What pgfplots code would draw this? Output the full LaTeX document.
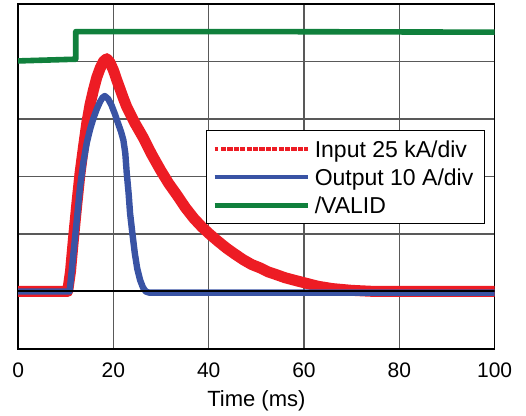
\documentclass[border=0pt]{standalone}
\usepackage{pgfplots}
\pgfplotsset{compat=1.18}
\usepackage{fontspec}
\setmainfont{Liberation Sans}
\definecolor{myred}{RGB}{237,28,36}
\definecolor{myblue}{RGB}{57,83,164}
\definecolor{mygreen}{RGB}{16,128,60}
\begin{document}
\begin{tikzpicture}
\useasboundingbox (0,0) rectangle (263pt,208pt);
\begin{axis}[
 at={(9.05pt,33.5pt)}, anchor=south west,
 scale only axis, width=238.25pt, height=172.5pt,
 xmin=0, xmax=100, ymin=-1, ymax=5,
 xtick={0,20,40,60,80,100}, ytick={-1,0,1,2,3,4,5}, yticklabels={},
 minor tick num=0,
 grid=major, major grid style={black!65, line width=0.6pt},
 axis line style={line width=0.7pt},
 major tick length=0pt,
 /pgf/number format/assume math mode=true,
 xticklabel style={font=\fontsize{10.5}{12}\selectfont, anchor=base, yshift=-14.5pt},
 xlabel={Time (ms)},
 xlabel style={font=\fontsize{11}{13}\selectfont, at={(axis description cs:0.5,0)}, anchor=base, yshift=-28.65pt},
 legend style={at={(axis cs:39.43,2.809)}, anchor=north west, draw=black, line width=0.6pt, fill=white,
   font=\fontsize{11.5}{13}\selectfont, inner xsep=3pt, inner ysep=2pt, row sep=0pt,
   nodes={inner xsep=2.5pt, inner ysep=0.5pt, text height=10.8pt, text depth=2.4pt}},
 legend cell align=left,
 legend image code/.code={\path (0pt,0pt) -- (46.5pt,0pt); \draw[#1] (4pt,0pt) -- (45pt,0pt);},
]
% Input (red)
\addplot[myred, line width=5.5pt, line join=round, forget plot] coordinates {
(0,0) (10.4,0) (11.0,0.35) (11.6,0.9) (12.3,1.5) (13.0,2.06) (13.7,2.5) (14.4,2.92) (15.1,3.25) (15.8,3.5) (16.5,3.72) (17.2,3.88) (17.9,4.0) (18.6,4.05) (19.3,3.98) (20.0,3.85) (20.7,3.68) (21.4,3.52) (22.1,3.36) (22.8,3.21) (24.5,2.93) (26.3,2.67) (28,2.39) (29.9,2.11) (31.6,1.88) (33.4,1.67) (35.1,1.46) (36.9,1.27) (38.6,1.12) (40.3,0.99) (42,0.87) (43.8,0.75) (45.5,0.65) (47.3,0.55) (49,0.47) (50.8,0.41) (52.5,0.34) (54.3,0.29) (56,0.24) (57.8,0.2) (60.6,0.14) (63,0.09) (66,0.05) (70,0.02) (75,0) (100,0)
};
% Output (blue)
\addplot[myblue, line width=3.2pt, line join=round, forget plot] coordinates {
(0,0) (10.8,0) (11.3,0.4) (11.9,0.9) (12.5,1.4) (13.0,1.82) (13.7,2.25) (14.4,2.58) (15.1,2.82) (15.8,3.01) (16.5,3.17) (17.2,3.30) (17.7,3.37) (18.2,3.40) (18.9,3.35) (19.6,3.24) (20.3,3.09) (21.0,2.92) (21.6,2.78) (22.1,2.63) (22.5,2.4) (22.8,2.06) (23.2,1.7) (23.5,1.36) (24.0,1.0) (24.5,0.66) (25.0,0.4) (25.6,0.2) (26.2,0.07) (26.8,0.0) (27.5,-0.02) (100,-0.02)
};
% /VALID (green)
\addplot[mygreen, line width=2.8pt, line join=round, forget plot] coordinates {
(0,4.01) (12.1,4.04) (12.1,4.52) (50,4.52) (100,4.51)
};
% zero line
\addplot[black, line width=1pt, forget plot] coordinates {(0,0) (100,0)};
\addlegendimage{myred, line width=1.8pt, dash pattern=on 1.8pt off 1.4pt}
\addlegendentry{Input 25 kA/div}
\addlegendimage{myblue, line width=2.1pt}
\addlegendentry{Output 10 A/div}
\addlegendimage{mygreen, line width=2.1pt}
\addlegendentry{/VALID}
\end{axis}
\end{tikzpicture}
\end{document}
